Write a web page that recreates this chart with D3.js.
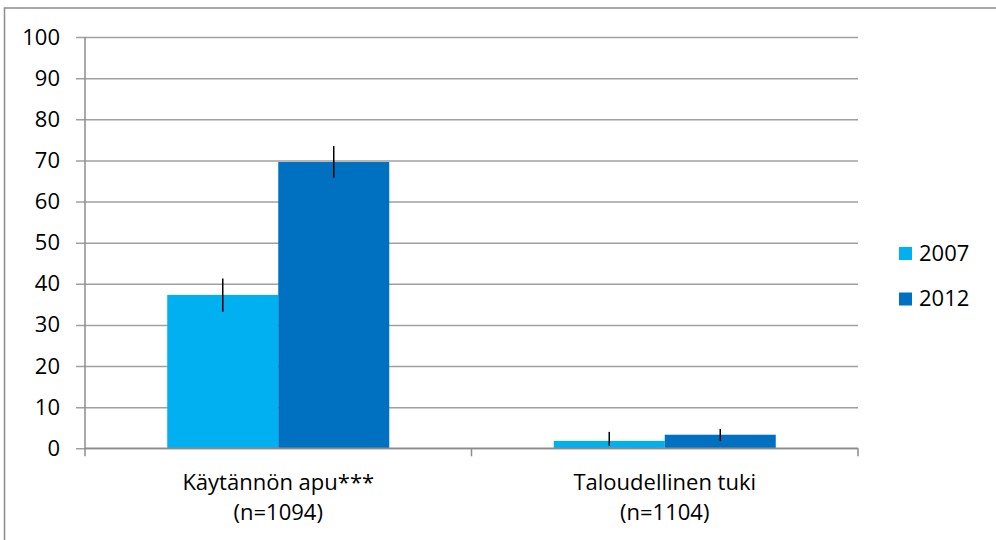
<!DOCTYPE html>
<html>
<head>
<meta charset="utf-8">
<script src="https://cdn.jsdelivr.net/npm/d3@7"></script>
<style>
  body { margin: 0; background: #fff; }
  svg text { font-family: "Open Sans", sans-serif; fill: #000; }
</style>
</head>
<body>
<div id="chart"></div>
<script>
// data
var categories = ["Käytännön apu***|(n=1094)", "Taloudellinen tuki|(n=1104)"];
var series = ["2007", "2012"];
var colors = ["#00b0f0", "#0070c0"];
var values2007 = [37.3, 1.8];
var values2012 = [69.6, 3.3];
var low2007 = [33.2, 0.6];
var high2007 = [41.3, 4.0];
var low2012 = [65.8, 1.8];
var high2012 = [73.5, 4.7];
var yTicks = [0, 10, 20, 30, 40, 50, 60, 70, 80, 90, 100];

var rows = categories.map(function(c, i) {
    return {
        cat: c,
        bars: [
            {s: series[0], v: values2007[i], lo: low2007[i], hi: high2007[i]},
            {s: series[1], v: values2012[i], lo: low2012[i], hi: high2012[i]}
        ]
    };
});

var W = 996, H = 540;
var plotLeft = 85, plotRight = 858, plotTop = 37, plotBottom = 448.3;

var svg = d3.select("#chart").append("svg")
    .attr("width", W)
    .attr("height", H);

// outer frame
svg.append("rect")
    .attr("x", 4.5).attr("y", 8)
    .attr("width", W + 10).attr("height", H + 10)
    .attr("fill", "none")
    .attr("stroke", "#8c8c8c")
    .attr("stroke-width", 1.5);

var y = d3.scaleLinear().domain([0, 100]).range([plotBottom, plotTop]);
var x0 = d3.scaleBand().domain(categories).range([plotLeft, plotRight]);
var x1 = d3.scaleBand().domain(series).range([0, x0.bandwidth()]).paddingOuter(0.741);
var color = d3.scaleOrdinal().domain(series).range(colors);

// gridlines + y labels
var yAxis = svg.append("g")
    .attr("transform", "translate(" + plotLeft + ",0)")
    .call(d3.axisLeft(y).tickValues(yTicks).tickSize(-(plotRight - plotLeft)).tickSizeOuter(0).tickPadding(25));
yAxis.select(".domain").remove();
yAxis.selectAll(".tick line")
    .attr("x1", -9)
    .attr("stroke", "#a0a0a0")
    .attr("stroke-width", 1.5);
yAxis.selectAll(".tick text")
    .style("font-size", "22px")
    .style("font-family", "'Open Sans', sans-serif")
    .attr("fill", "#000");

// vertical axis line
svg.append("line")
    .attr("x1", plotLeft).attr("x2", plotLeft)
    .attr("y1", plotTop).attr("y2", plotBottom)
    .attr("stroke", "#8c8c8c")
    .attr("stroke-width", 1.5);

// bars
var groups = svg.append("g").selectAll("g")
    .data(rows)
    .enter().append("g")
    .attr("transform", function(d) { return "translate(" + x0(d.cat) + ",0)"; });

groups.selectAll("rect")
    .data(function(d) { return d.bars; })
    .enter().append("rect")
    .attr("x", function(d) { return x1(d.s); })
    .attr("y", function(d) { return y(d.v); })
    .attr("width", x1.bandwidth())
    .attr("height", function(d) { return y(0) - y(d.v); })
    .attr("fill", function(d) { return color(d.s); });

// error bars
groups.selectAll("line.err")
    .data(function(d) { return d.bars; })
    .enter().append("line")
    .attr("class", "err")
    .attr("x1", function(d) { return x1(d.s) + x1.bandwidth() / 2; })
    .attr("x2", function(d) { return x1(d.s) + x1.bandwidth() / 2; })
    .attr("y1", function(d) { return y(d.hi); })
    .attr("y2", function(d) { return y(d.lo); })
    .attr("stroke", "#000")
    .attr("stroke-width", 1.5);

// x axis
svg.append("line")
    .attr("x1", plotLeft).attr("x2", plotRight)
    .attr("y1", plotBottom).attr("y2", plotBottom)
    .attr("stroke", "#8c8c8c")
    .attr("stroke-width", 1.5);

var xTicks = [plotLeft].concat(categories.map(function(c) { return x0(c) + x0.bandwidth(); }));
svg.selectAll("line.xt")
    .data(xTicks)
    .enter().append("line")
    .attr("class", "xt")
    .attr("x1", function(d) { return d; })
    .attr("x2", function(d) { return d; })
    .attr("y1", plotBottom).attr("y2", plotBottom + 8)
    .attr("stroke", "#8c8c8c")
    .attr("stroke-width", 1.5);

// category labels
svg.selectAll("text.cat")
    .data(categories)
    .enter().append("text")
    .attr("class", "cat")
    .attr("text-anchor", "middle")
    .style("font-size", "22px")
    .attr("transform", function(d) { return "translate(" + (x0(d) + x0.bandwidth() / 2) + ",490)"; })
    .selectAll("tspan")
    .data(function(d) { return d.split("|"); })
    .enter().append("tspan")
    .attr("x", 0)
    .attr("y", function(d, i) { return i * 30; })
    .text(function(d) { return d; });

// legend
var legend = svg.append("g").selectAll("g")
    .data(series)
    .enter().append("g")
    .attr("transform", function(d, i) { return "translate(899," + (247 + i * 45.5) + ")"; });

legend.append("rect")
    .attr("width", 13).attr("height", 13)
    .attr("fill", function(d) { return color(d); });

legend.append("text")
    .attr("x", 20).attr("y", 13.5)
    .style("font-size", "22px")
    .text(function(d) { return d; });
</script>
</body>
</html>
